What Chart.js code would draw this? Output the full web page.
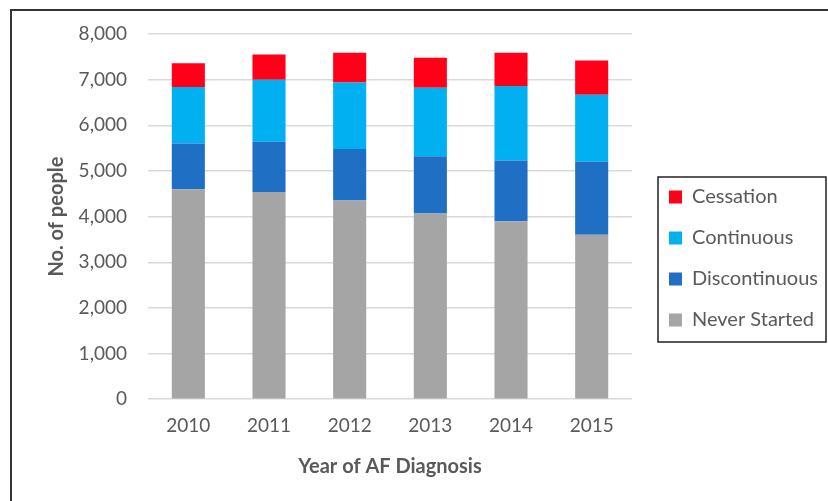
<!DOCTYPE html>
<html>
<head>
<meta charset="utf-8">
<script src="https://cdn.jsdelivr.net/npm/chart.js@4"></script>
<style>
  html, body { margin: 0; padding: 0; background: #fff; }
  #wrap { position: relative; width: 828px; height: 501px; }
</style>
</head>
<body>
<div id="wrap"><canvas id="chart" width="828" height="501"></canvas></div>
<script>
// Datos
const years = ['2010', '2011', '2012', '2013', '2014', '2015'];
const neverStarted = [4600, 4540, 4350, 4070, 3900, 3600];
const discontinuous = [1000, 1100, 1130, 1250, 1330, 1600];
const continuous = [1240, 1360, 1460, 1500, 1630, 1470];
const cessation = [520, 550, 650, 660, 730, 750];
const yTicks = [0, 1000, 2000, 3000, 4000, 5000, 6000, 7000, 8000];

const textColor = '#595959';
const fontFamily = 'Lato, "Open Sans", sans-serif';
const legendGap = 16; // espacio extra entre el gráfico y la leyenda

// Marco exterior (solo lados superior e izquierdo visibles)
const framePlugin = {
    id: 'frame',
    afterDraw(chart) {
        const ctx = chart.ctx;
        ctx.save();
        ctx.strokeStyle = '#333';
        ctx.lineWidth = 2;
        ctx.beginPath();
        ctx.moveTo(11, 501);
        ctx.lineTo(11, 10);
        ctx.lineTo(828, 10);
        ctx.stroke();
        ctx.restore();
    }
};

// Separa la leyenda del área del gráfico y le dibuja un borde
const legendBoxPlugin = {
    id: 'legendBox',
    beforeLayout(chart) {
        const lg = chart.legend;
        if (lg && !lg._gapPatched) {
            const origFit = lg.fit.bind(lg);
            lg.fit = function () {
                origFit();
                this.width += legendGap;
            };
            lg._gapPatched = true;
        }
    },
    afterLayout(chart) {
        if (chart.legend) chart.legend.left += legendGap;
    },
    afterDraw(chart) {
        const lg = chart.legend;
        const boxes = lg.legendHitBoxes;
        if (!boxes || !boxes.length) return;
        const pad = lg.options.labels.padding;
        const x0 = lg.left + pad - 11;
        const minY = Math.min(...boxes.map(b => b.top));
        const maxY = Math.max(...boxes.map(b => b.top + b.height));
        const ctx = chart.ctx;
        ctx.save();
        ctx.strokeStyle = '#222';
        ctx.lineWidth = 1.5;
        ctx.strokeRect(x0, minY - 10, 826 - x0, maxY - minY + 22);
        ctx.restore();
    }
};

function initializeChart() {
    const ctx = document.getElementById('chart').getContext('2d');
    new Chart(ctx, {
        type: 'bar',
        data: {
            labels: years,
            datasets: [
                { label: 'Never Started', data: neverStarted, backgroundColor: '#A5A5A5' },
                { label: 'Discontinuous', data: discontinuous, backgroundColor: '#1F6FC5' },
                { label: 'Continuous', data: continuous, backgroundColor: '#00B0F0' },
                { label: 'Cessation', data: cessation, backgroundColor: '#FF0018' }
            ]
        },
        options: {
            responsive: false,
            animation: false,
            devicePixelRatio: 1,
            datasets: {
                bar: { barPercentage: 0.41, categoryPercentage: 1 }
            },
            layout: { padding: { top: 34, left: 41, right: 0, bottom: 18 } },
            plugins: {
                legend: {
                    position: 'right',
                    reverse: true,
                    labels: {
                        boxWidth: 13,
                        boxHeight: 13,
                        padding: 21,
                        color: textColor,
                        font: { family: fontFamily, size: 20 }
                    }
                },
                tooltip: { enabled: false }
            },
            scales: {
                x: {
                    stacked: true,
                    grid: { display: false },
                    border: { display: false },
                    ticks: { color: textColor, font: { family: fontFamily, size: 19 }, padding: 7 },
                    title: {
                        display: true,
                        text: 'Year of AF Diagnosis',
                        color: textColor,
                        font: { family: fontFamily, size: 20, weight: 'bold' },
                        padding: { top: 11 }
                    }
                },
                y: {
                    stacked: true,
                    min: 0,
                    max: 8000,
                    afterBuildTicks(axis) {
                        axis.ticks = yTicks.map(v => ({ value: v }));
                    },
                    afterFit(axis) {
                        axis.width = 107;
                    },
                    grid: { color: '#D9D9D9', lineWidth: 1.5, drawTicks: false },
                    border: { display: false },
                    ticks: {
                        color: textColor,
                        font: { family: fontFamily, size: 19 },
                        padding: 21,
                        callback: v => v.toLocaleString('en-US')
                    },
                    title: {
                        display: true,
                        text: 'No. of people',
                        color: textColor,
                        font: { family: fontFamily, size: 20, weight: 'bold' },
                        padding: { top: 4, bottom: 11 }
                    }
                }
            }
        },
        plugins: [framePlugin, legendBoxPlugin]
    });
}

initializeChart();
</script>
</body>
</html>
